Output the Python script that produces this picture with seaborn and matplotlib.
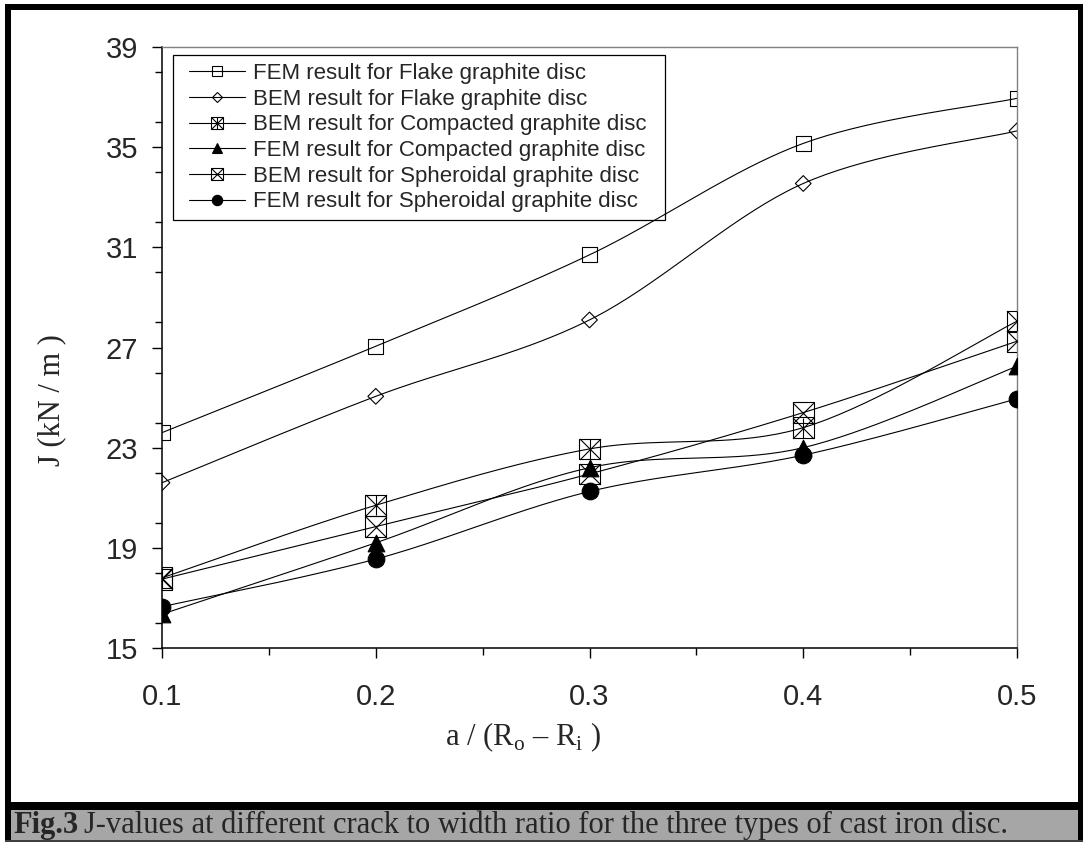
import numpy as np
import matplotlib
matplotlib.use('Agg')
import matplotlib.pyplot as plt
import seaborn as sns
from matplotlib.patches import Rectangle
from matplotlib.lines import Line2D
from matplotlib.ticker import MultipleLocator

# data
ratio = [0.1, 0.2, 0.3, 0.4, 0.5]
fem_flake = [23.6, 27.05, 30.7, 35.15, 36.95]
bem_flake = [21.6, 25.05, 28.1, 33.55, 35.65]
bem_compacted = [17.8, 20.7, 22.95, 23.8, 28.05]
fem_compacted = [16.35, 19.2, 22.2, 23.0, 26.25]
bem_spheroidal = [17.75, 19.85, 21.95, 24.4, 27.25]
fem_spheroidal = [16.65, 18.55, 21.25, 22.7, 24.95]

labels = ['FEM result for Flake graphite disc',
          'BEM result for Flake graphite disc',
          'BEM result for Compacted graphite disc',
          'FEM result for Compacted graphite disc',
          'BEM result for Spheroidal graphite disc',
          'FEM result for Spheroidal graphite disc']
x_ticks = [0.1, 0.2, 0.3, 0.4, 0.5]
y_ticks = [15, 19, 23, 27, 31, 35, 39]

sns.set_style('ticks')
plt.rcParams['font.family'] = ['Liberation Sans', 'DejaVu Sans']
plt.rcParams['mathtext.fontset'] = 'custom'
plt.rcParams['mathtext.rm'] = 'Liberation Serif'

W, H = 1083, 842
fig = plt.figure(figsize=(W / 100, H / 100), dpi=100)


def px(x, y):
    return x / W, 1 - y / H


# outer frame and caption bar
for x0, y0, x1, y1, c in [(5, 4, W, 10, 'black'), (5, 4, 11, H, 'black'),
                          (W - 5, 4, W, H, 'black'), (5, 802, W, 810, 'black'),
                          (11, 810, W - 5, 840, '#a6a6a6'), (5, 840, W, H, '#404040')]:
    fig.patches.append(Rectangle((x0 / W, 1 - y1 / H), (x1 - x0) / W, (y1 - y0) / H,
                                 transform=fig.transFigure, color=c, lw=0))

ax = fig.add_axes([162 / W, 1 - 648 / H, 855 / W, 601 / H])


def smooth(xs, ys, n=40):
    p = np.column_stack([xs, ys]).astype(float)
    p = np.vstack([p[0], p, p[-1]])
    segs = []
    t = np.linspace(0, 1, n)[:, None]
    for i in range(1, len(p) - 2):
        p0, p1, p2, p3 = p[i - 1], p[i], p[i + 1], p[i + 2]
        c1 = p1 + (p2 - p0) / 6
        c2 = p2 - (p3 - p1) / 6
        seg = (1 - t) ** 3 * p1 + 3 * (1 - t) ** 2 * t * c1 + 3 * (1 - t) * t ** 2 * c2 + t ** 3 * p2
        segs.append(seg if i == 1 else seg[1:])
    return np.vstack(segs)


# marker layers: (marker, size in pt, filled)
styles = [
    [('s', 10.8, False)],
    [('D', 8.0, False)],
    [('s', 15, False), ('x', 15, False), ('|', 15, False)],
    [('^', 12, True)],
    [('s', 15, False), ('x', 15, False)],
    [('o', 12, True)],
]
series = [fem_flake, bem_flake, bem_compacted, fem_compacted, bem_spheroidal, fem_spheroidal]

handles = []
for vals, st, lab in zip(series, styles, labels):
    curve = smooth(ratio, vals)
    sns.lineplot(x=curve[:, 0], y=curve[:, 1], sort=False, estimator=None,
                 color='black', lw=0.8, ax=ax, zorder=2)
    hs = [Line2D([], [], color='black', lw=0.8)]
    for m, ms, filled in st:
        if m in ('x', '|'):
            sns.scatterplot(x=ratio, y=vals, marker=m, s=ms ** 2, color='black',
                            linewidth=0.8, ax=ax, zorder=3)
            hs.append(Line2D([], [], ls='none', marker=m, ms=ms, mew=0.8, color='black'))
        else:
            sns.scatterplot(x=ratio, y=vals, marker=m, s=ms ** 2,
                            facecolor='black' if filled else 'none',
                            edgecolor='black', linewidth=0.8, ax=ax, zorder=3)
            hs.append(Line2D([], [], ls='none', marker=m, ms=ms,
                             mfc='black' if filled else 'none', mec='black', mew=0.8))
    handles.append(tuple(hs))

ax.set_xlim(0.1, 0.5)
ax.set_ylim(15, 39)
ax.set_xticks(x_ticks)
ax.set_xticklabels([f'{v:.1f}' for v in x_ticks])
ax.set_yticks(y_ticks)
ax.xaxis.set_minor_locator(MultipleLocator(0.05))
ax.yaxis.set_minor_locator(MultipleLocator(2))
ax.tick_params(which='major', direction='out', length=7, width=1, labelsize=21, color='black')
ax.tick_params(axis='x', which='major', pad=18)
ax.tick_params(axis='y', which='major', pad=10)
ax.tick_params(which='minor', direction='out', length=5, width=1, color='black')
ax.set_xlabel('')
ax.set_ylabel('')
for s in ['left', 'bottom']:
    ax.spines[s].set_color('black')
    ax.spines[s].set_linewidth(1.1)
for s in ['top', 'right']:
    ax.spines[s].set_visible(True)
    ax.spines[s].set_color('#808080')
    ax.spines[s].set_linewidth(1.0)

# legend with a separately drawn frame
leg = ax.legend(handles, labels, loc='upper left', bbox_to_anchor=px(189, 63),
                bbox_transform=fig.transFigure, frameon=False, fontsize=16,
                markerscale=0.62, handlelength=2.5, handletextpad=0.4,
                labelspacing=0.21, borderpad=0, borderaxespad=0)
fig.patches.append(Rectangle(px(173, 220), (665 - 173) / W, (220 - 55) / H,
                             transform=fig.transFigure, fill=False, ec='black', lw=0.9,
                             zorder=5))

fig.text(*px(52, 400), 'J (kN / m )', rotation=90, ha='center', va='center',
         family='Liberation Serif', fontsize=22)
fig.text(*px(523, 737), r'a / (R$_{\rm o}$ – R$_{\rm i}$ )', ha='center', va='center',
         family='Liberation Serif', fontsize=22)

t1 = fig.text(*px(13, 825), 'Fig.3', ha='left', va='center', family='Liberation Serif',
              weight='bold', fontsize=22)
fig.canvas.draw()
bb = t1.get_window_extent(fig.canvas.get_renderer())
fig.text(bb.x1 / W + 6 / W, 1 - 825 / H,
         'J-values at different crack to width ratio for the three types of cast iron disc.',
         ha='left', va='center', family='Liberation Serif', fontsize=22)

fig.savefig('out.png', dpi=100)
